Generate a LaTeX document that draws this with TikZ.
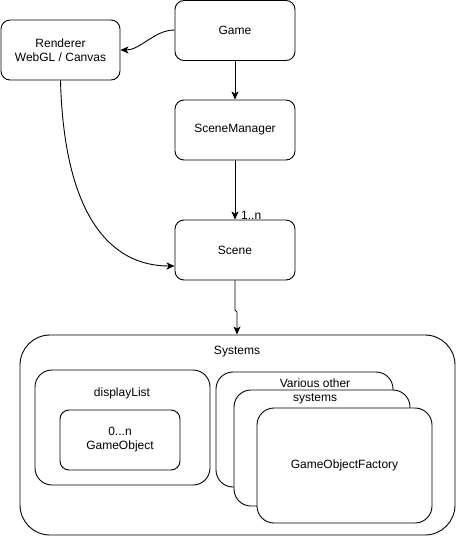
\documentclass[tikz,border=0pt]{standalone}
\usepackage{fontspec}
\setmainfont{Liberation Sans}
\usetikzlibrary{arrows.meta}
\begin{document}
\begin{tikzpicture}[x=1pt,y=-1pt,
  every node/.style={font=\fontsize{12}{14}\selectfont, inner sep=0pt},
  box/.style={draw, line width=0.9pt, rounded corners=#1, fill=white, align=center},
  box/.default=9pt,
  conn/.style={line width=0.9pt, -{Stealth[length=8pt,width=7pt,inset=2pt]}},
]
\useasboundingbox (0,0) rectangle (456,536);
% top nodes
\node[box, minimum width=120pt, minimum height=60pt] (game) at (235,30.5) {Game};
\node[box, minimum width=119pt, minimum height=60pt] (rend) at (60.5,50) {Renderer\\WebGL / Canvas};
\node[box, minimum width=120pt, minimum height=60pt] (sm) at (235,130) {SceneManager};
\node[box, minimum width=120pt, minimum height=60pt] (scene) at (235,250) {Scene};
% systems container
\node[box=30pt, minimum width=435pt, minimum height=200pt] (sys) at (237.5,435) {};
\node (syslbl) at (237,352) {Systems};
% displayList
\node[box=17pt, minimum width=175pt, minimum height=115pt] (dl) at (122.5,427.5) {};
\node (dllbl) at (122,393) {displayList};
\node[box, minimum width=120pt, minimum height=60pt] (go) at (120,440) {0...n\\GameObject};
% stacked systems
\node[box=17pt, minimum width=177pt, minimum height=115pt] (s1) at (304.5,429.5) {};
\node[box=17pt, minimum width=176pt, minimum height=116pt] (s2) at (322,448) {};
\node[box=17pt, minimum width=175pt, minimum height=115pt] (s3) at (344.5,465.5) {GameObjectFactory};
\node[align=center, inner sep=1pt] (various) at (315,391) {Various other\\systems};
% connectors
\draw[conn] (game.west) ++(0,-0.5) coordinate (gw) (gw) to[out=180,in=0,looseness=0.9] (rend.east);
\draw[conn] (game.south) -- (sm.north);
\draw[conn] (sm.south) -- (scene.north);
\node[anchor=west] (onen) at (241,215) {1..n};
\draw[conn] (rend.south) .. controls (64,215) and (110,266) .. (scene.west |- 0,266);
\coordinate (j1) at (235,310);
\coordinate (j2) at (237,312);
\draw[conn] (scene.south) -- (j1) -- (j2) -- (sys.north -| j2);
\end{tikzpicture}
\end{document}
